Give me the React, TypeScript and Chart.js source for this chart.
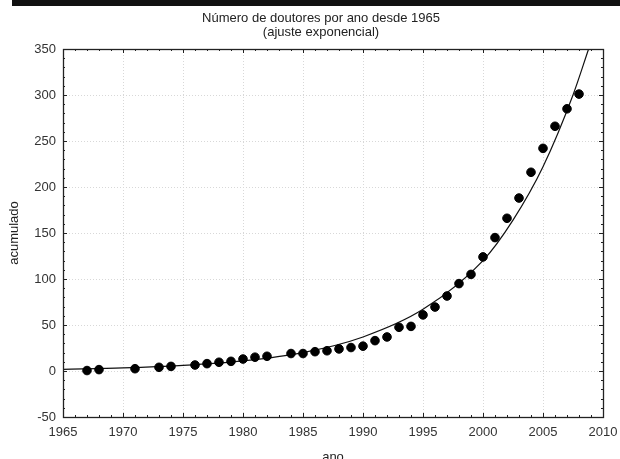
import React, { useEffect, useRef } from "react";
import { Chart, registerables } from "chart.js";

Chart.register(...registerables);

const titleLines = ["Número de doutores por ano desde 1965", "(ajuste exponencial)"];
const xAxisTitle = "ano";
const yAxisTitle = "acumulado";

const years = [1967, 1968, 1971, 1973, 1974, 1976, 1977, 1978, 1979, 1980, 1981, 1982, 1984, 1985, 1986, 1987, 1988, 1989, 1990, 1991, 1992, 1993, 1994, 1995, 1996, 1997, 1998, 1999, 2000, 2001, 2002, 2003, 2004, 2005, 2006, 2007, 2008];
const doctors = [0.5, 1.5, 2.5, 4, 5, 6.5, 8, 9.5, 10.5, 13, 15, 16, 19, 19, 21, 22, 24, 25.5, 27, 33, 37, 47.5, 48.5, 61, 69.5, 81.5, 95, 105, 124, 145, 166, 188, 216, 242, 266, 285, 301];

// exponential fit curve
const fitYears = [1965, 1970, 1975, 1980, 1985, 1990, 1995, 2000, 2002.5, 2005, 2007.5, 2008.8];
const fitValues = [1.8, 3.3, 6.1, 11, 20, 37, 67, 120, 164, 222, 300, 350];

const xMin = 1965, xMax = 2010, xStep = 5, xMinor = 1;
const yMin = -50, yMax = 350, yStep = 50, yMinor = 10;

const FONT = "'Liberation Sans', Arial, sans-serif";

const framePlugin = {
  id: "frameTicks",
  afterDraw(chart: any) {
    const { ctx, chartArea: a, scales } = chart;
    const xs = scales.x, ys = scales.y;
    ctx.save();
    ctx.strokeStyle = "#222";
    ctx.lineWidth = 1;
    ctx.beginPath();
    for (let v = xMin; v <= xMax + 1e-9; v += xMinor) {
      const px = Math.round(xs.getPixelForValue(v)) + 0.5;
      const len = (v - xMin) % xStep === 0 ? 4 : 2;
      ctx.moveTo(px, a.bottom); ctx.lineTo(px, a.bottom - len);
      ctx.moveTo(px, a.top); ctx.lineTo(px, a.top + len);
    }
    for (let v = yMin; v <= yMax + 1e-9; v += yMinor) {
      const py = Math.round(ys.getPixelForValue(v)) + 0.5;
      const len = (v - yMin) % yStep === 0 ? 4 : 2;
      ctx.moveTo(a.left, py); ctx.lineTo(a.left + len, py);
      ctx.moveTo(a.right, py); ctx.lineTo(a.right - len, py);
    }
    ctx.stroke();
    ctx.lineWidth = 1.3;
    ctx.strokeRect(Math.round(a.left) + 0.5, Math.round(a.top) + 0.5, Math.round(a.right - a.left), Math.round(a.bottom - a.top));
    // texts
    ctx.fillStyle = "#222";
    ctx.font = `13px ${FONT}`;
    ctx.textAlign = "center";
    ctx.textBaseline = "middle";
    ctx.fillText(titleLines[0], 321, 18);
    ctx.fillText(titleLines[1], 321, 32);
    ctx.fillText(xAxisTitle, (a.left + a.right) / 2, 457);
    ctx.translate(14, (a.top + a.bottom) / 2);
    ctx.rotate(-Math.PI / 2);
    ctx.fillText(yAxisTitle, 0, 0);
    ctx.restore();
  },
};

export default function App() {
  const ref = useRef<HTMLCanvasElement | null>(null);
  useEffect(() => {
    if (!ref.current) return;
    const chart = new Chart(ref.current, {
      type: "scatter",
      data: {
        datasets: [
          {
            label: "dados",
            data: years.map((y, i) => ({ x: y, y: doctors[i] })),
            backgroundColor: "#000",
            borderColor: "#000",
            pointRadius: 4.3,
            pointHoverRadius: 4.3,
            showLine: false,
          },
          {
            label: "ajuste",
            data: fitYears.map((y, i) => ({ x: y, y: fitValues[i] })),
            borderColor: "#111",
            borderWidth: 1.2,
            pointRadius: 0,
            showLine: true,
            cubicInterpolationMode: "monotone",
            fill: false,
          },
        ],
      },
      options: {
        responsive: false,
        animation: false,
        devicePixelRatio: 1,
        layout: { padding: { left: 0, right: 17, top: 49, bottom: 0 } },
        plugins: { legend: { display: false }, title: { display: false }, tooltip: { enabled: false } },
        scales: {
          x: {
            type: "linear",
            min: xMin,
            max: xMax,
            afterFit: (s: any) => { s.height = 42; s.paddingLeft = 0; s.paddingRight = 0; },
            ticks: {
              stepSize: xStep,
              autoSkip: false,
              maxRotation: 0,
              padding: 8,
              color: "#333",
              font: { family: FONT, size: 13 },
              callback: (v: any) => String(v),
            },
            grid: { color: "#d8d8d8", lineWidth: 1, drawTicks: false },
            border: { display: false, dash: [1, 2] },
          },
          y: {
            type: "linear",
            min: yMin,
            max: yMax,
            afterFit: (s: any) => { s.width = 63; s.paddingTop = 0; s.paddingBottom = 0; },
            ticks: {
              stepSize: yStep,
              autoSkip: false,
              padding: 7,
              color: "#333",
              font: { family: FONT, size: 13 },
              callback: (v: any) => String(v),
            },
            grid: { color: "#d8d8d8", lineWidth: 1, drawTicks: false },
            border: { display: false, dash: [1, 2] },
          },
        },
      },
      plugins: [framePlugin],
    } as any);
    return () => chart.destroy();
  }, []);
  return (
    <div style={{ position: "fixed", left: 0, top: 0, width: 620, height: 459, background: "#fff", overflow: "hidden" }}>
      <canvas ref={ref} width={620} height={459} style={{ display: "block", width: 620, height: 459 }} />
      <div style={{ position: "absolute", left: 12, top: 0, width: 608, height: 6, background: "#111" }} />
    </div>
  );
}
